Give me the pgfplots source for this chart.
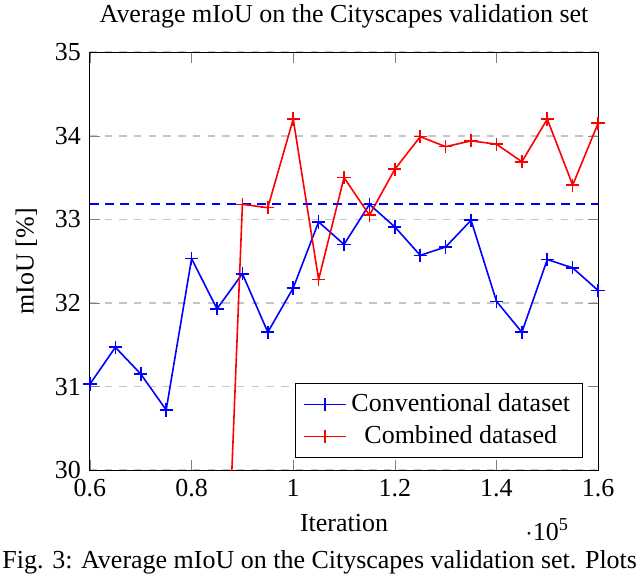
\documentclass[border=0pt]{standalone}
\usepackage{fontspec}
\setmainfont{Liberation Serif}
\usepackage{pgfplots}
\pgfplotsset{compat=1.18}

\begin{document}
\fontsize{10.6}{12.7}\selectfont
\begin{tikzpicture}
\begin{axis}[
    name=ax,
    width=207.3pt, height=170.5pt, scale only axis,
    xmin=60000, xmax=160000, ymin=30, ymax=35,
    xtick={60000,80000,100000,120000,140000,160000},
    ytick={30,31,32,33,34,35},
    scaled x ticks=base 10:-5,
    xtick scale label code/.code={$\cdot$10\textsuperscript{5}},
    /pgf/number format/assume math mode=true,
    ymajorgrids, grid style={dashed, gray!45, semithick},
    title={Average mIoU on the Cityscapes validation set},
    xlabel={Iteration}, ylabel={mIoU [\%]},
    legend pos=south east, legend cell align=center,
    legend style={fill=white},
  ]
  \addplot[blue, line width=0.65pt, mark=+, mark size=2.7pt, mark options={solid}] coordinates {
    (60000,31.03) (65000,31.47) (70000,31.15) (75000,30.72) (80000,32.53)
    (85000,31.93) (90000,32.35) (95000,31.65) (100000,32.18) (105000,32.97)
    (110000,32.70) (115000,33.18) (120000,32.91) (125000,32.57) (130000,32.67)
    (135000,32.99) (140000,32.02) (145000,31.65) (150000,32.52) (155000,32.42)
    (160000,32.15)};
  \addplot[red, line width=0.65pt, mark=+, mark size=2.7pt, mark options={solid}] coordinates {
    (85000,25.5) (90000,33.18) (95000,33.14) (100000,34.20) (105000,32.28)
    (110000,33.50) (115000,33.05) (120000,33.60) (125000,33.99) (130000,33.87)
    (135000,33.94) (140000,33.90) (145000,33.69) (150000,34.20) (155000,33.41)
    (160000,34.15)};
  \addplot[blue, line width=0.7pt, dash pattern=on 3.6pt off 2.6pt, forget plot] coordinates {(60000,33.18) (160000,33.18)};
  \legend{Conventional dataset, Combined datased}
\end{axis}
\node[anchor=base west, inner sep=0pt] at ([shift={(-35.9pt,-40.2pt)}]ax.south west)
  {Fig. 3: Average mIoU on the Cityscapes validation set. Plots};
\pgfresetboundingbox
\path[use as bounding box] ([shift={(-36.7pt,-42.4pt)}]ax.south west)
  rectangle ([shift={(224.4pt,191.8pt)}]ax.south west);
\end{tikzpicture}
\end{document}
